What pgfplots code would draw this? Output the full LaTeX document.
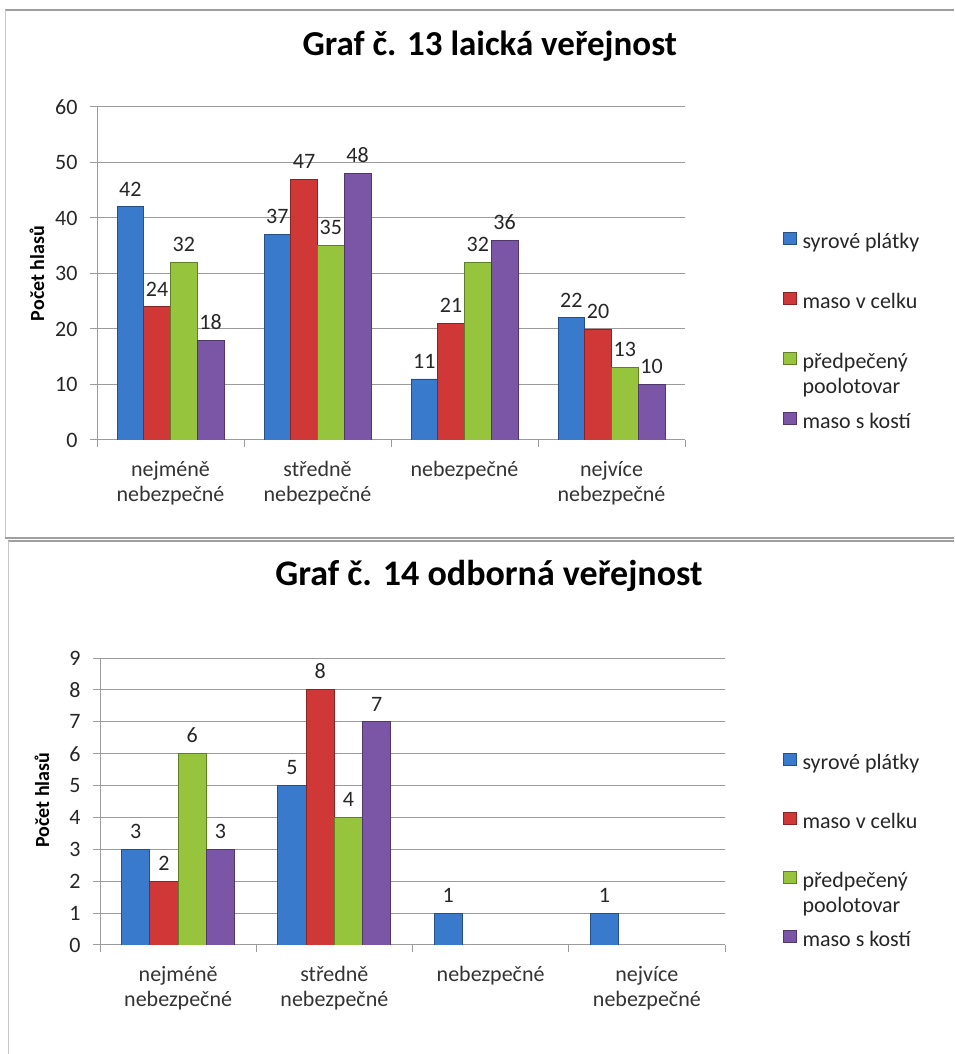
\documentclass[border=0pt]{standalone}
\usepackage{fontspec}
\setmainfont{Carlito}
\usepackage{pgfplots}
\pgfplotsset{compat=1.18}

\definecolor{bM}{RGB}{58,122,205}
\definecolor{rM}{RGB}{208,56,56}
\definecolor{gM}{RGB}{150,196,60}
\definecolor{pM}{RGB}{124,86,166}
\definecolor{gridc}{RGB}{155,155,155}

\newcommand\lbl{\fontsize{22}{25}\selectfont}

\pgfplotsset{
 chartbase/.style={
  scale only axis,
  anchor=south west,
  ybar=0pt,
  xmin=-0.5, xmax=3.5,
  ymin=0,
  axis x line*=bottom, axis y line*=left,
  axis line style={gridc, line width=1pt},
  xtick={-0.5,0.5,1.5,2.5,3.5},
  x tick label as interval,
  xticklabels={{nejméně\\nebezpečné},{středně\\nebezpečné},{nebezpečné},{nejvíce\\nebezpečné}},
  xticklabel style={align=center, font=\lbl, text=black!80, yshift=-11pt},
  yticklabel style={font=\lbl, text=black!85, xshift=-9pt},
  /pgf/number format/assume math mode=true,
  tick align=outside,
  major tick length=7pt,
  tick style={gridc, line width=1pt},
  ymajorgrids, grid style={gridc, line width=1pt},
  nodes near coords,
  nodes near coords style={font=\lbl, text=black!85, anchor=south, yshift=7pt},
  ylabel={\bfseries Počet hlasů},
  ylabel style={font=\fontsize{20}{24}\selectfont, anchor=center},
  legend cell align=left,
  legend style={draw=none, fill=none, inner sep=0pt, column sep=6pt,
    nodes={inner sep=0pt, text height=15pt, text depth=5pt, font=\lbl, text=black!85}},
  legend image code/.code={\filldraw[#1] (0pt,-1pt) rectangle (12.5pt,11pt);},
 },
 sB/.style={draw=bM!65!black, line width=0.8pt, fill=bM},
 sR/.style={draw=rM!65!black, line width=0.8pt, fill=rM},
 sG/.style={draw=gM!65!black, line width=0.8pt, fill=gM},
 sP/.style={draw=pM!65!black, line width=0.8pt, fill=pM},
}

\begin{document}
\begin{tikzpicture}[x=1pt,y=1pt]
\useasboundingbox (0,0) rectangle (954,1054);
% frames
\draw[gray!75, line width=1.5pt] (5,1044) -- (954,1044);
\draw[gray!45, line width=1pt] (5,1044) -- (5,516);
\draw[gray!75, line width=1.5pt] (5,516) -- (954,516);
\draw[gray!75, line width=1.5pt] (8,513) -- (954,513);
\draw[gray!45, line width=1pt] (8,513) -- (8,0);

\begin{axis}[chartbase,
  at={(97pt,614pt)}, width=588pt, height=333pt,
  ymax=60, ytick={0,10,...,60},
  bar width=26.75pt,
  title={Graf č. 13 laická veřejnost},
  title style={at={(axis description cs:0.668,1.138)}, anchor=base, font=\fontsize{35}{40}\selectfont\bfseries},
  ylabel style={at={(axis description cs:-0.102,0.5)}},
  legend style={at={(axis description cs:1.1667,0.6246)}, anchor=north west, row sep=38.6pt},
]
\addplot[sB] coordinates {(0,42) (1,37) (2,11) (3,22)};
\addplot[sR] coordinates {(0,24) (1,47) (2,21) (3,20)};
\addplot[sG] coordinates {(0,32) (1,35) (2,32) (3,13)};
\addplot[sP] coordinates {(0,18) (1,48) (2,36) (3,10)};
\legend{syrové plátky, maso v celku, {\begin{tabular}[t]{@{}l@{}}předpečený\\poolotovar\end{tabular}}, maso s kostí}
\end{axis}

\begin{axis}[chartbase,
  at={(100pt,109pt)}, width=625pt, height=287pt,
  ymax=9, ytick={0,1,...,9},
  bar width=28.25pt,
  title={Graf č. 14 odborná veřejnost},
  title style={at={(axis description cs:0.6224,1.230)}, anchor=base, font=\fontsize{36}{42}\selectfont\bfseries},
  ylabel style={at={(axis description cs:-0.093,0.505)}},
  legend style={at={(axis description cs:1.0928,0.669)}, anchor=north west, row sep=37.6pt},
]
\addplot[sB] coordinates {(0,3) (1,5) (2,1) (3,1)};
\addplot[sR] coordinates {(0,2) (1,8)};
\addplot[sG] coordinates {(0,6) (1,4)};
\addplot[sP] coordinates {(0,3) (1,7)};
\legend{syrové plátky, maso v celku, {\begin{tabular}[t]{@{}l@{}}předpečený\\poolotovar\end{tabular}}, maso s kostí}
\end{axis}
\end{tikzpicture}
\end{document}
